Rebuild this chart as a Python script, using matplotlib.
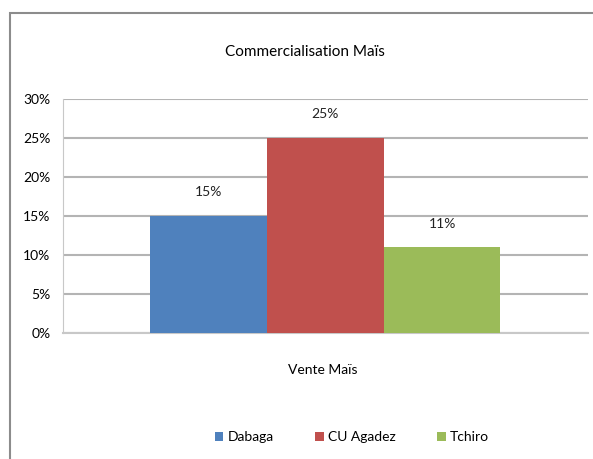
import matplotlib
matplotlib.use("Agg")
import matplotlib.pyplot as plt
from matplotlib.patches import Rectangle
from matplotlib.ticker import FuncFormatter

SERIES = ["Dabaga", "CU Agadez", "Tchiro"]
VALUES = [0.15, 0.25, 0.11]
LABELS = ["15%", "25%", "11%"]
COLORS = ["#4F81BD", "#C0504D", "#9BBB59"]
CATEGORY = "Vente Maïs"
TITLE = "Commercialisation Maïs"
YTICKS = [0, 0.05, 0.10, 0.15, 0.20, 0.25, 0.30]

plt.rcParams['font.family'] = ['Lato', 'DejaVu Sans']

fig = plt.figure(figsize=(5.93, 4.59), dpi=100)
ax = fig.add_axes([0.1062, 0.2745, 0.8853, 0.5098])

# frame round the chart area (only top and left visible in the reference)
fig.patches.append(Rectangle((10 / 593, -0.2), 2.0, 0.2 + (459 - 13) / 459,
                             transform=fig.transFigure, fill=False,
                             edgecolor="#8c8c8c", linewidth=1.5))

bars = []
for i, (name, v, c) in enumerate(zip(SERIES, VALUES, COLORS)):
    b = ax.bar(i - 1, v, width=1.0, color=c, label=name, zorder=3)
    bars.append(b)
    ax.annotate(LABELS[i], (i - 1, v), xytext=(0, 17), textcoords="offset points",
                ha="center", va="center", fontsize=10, color="#222222")

ax.set_xlim(-2.25, 2.25)
ax.set_ylim(0, 0.30)
ax.set_yticks(YTICKS)
ax.yaxis.set_major_formatter(FuncFormatter(lambda v, p: "%d%%" % round(v * 100)))
ax.set_xticks([])
ax.tick_params(axis="y", length=0, pad=9, labelsize=10)
ax.grid(axis="y", color="#b4b4b4", linewidth=1.5, zorder=0)
for s in ["top", "right"]:
    ax.spines[s].set_visible(False)
ax.spines["left"].set_color("#c8c8c8")
ax.spines["bottom"].set_color("#c8c8c8")
ax.spines["bottom"].set_linewidth(1.5)

fig.text(305 / 593, 1 - 52 / 459, TITLE, ha="center", va="center", fontsize=11)
fig.text(323 / 593, 1 - 370 / 459, CATEGORY, ha="center", va="center", fontsize=10)

fig.legend(handles=[b[0] for b in bars], labels=SERIES, loc="center",
           bbox_to_anchor=(352 / 593, 1 - 437 / 459), ncol=3, frameon=False,
           fontsize=10, handlelength=0.6, handleheight=0.6, handletextpad=0.3,
           columnspacing=3.0)

fig.savefig("out.png", dpi=100)
